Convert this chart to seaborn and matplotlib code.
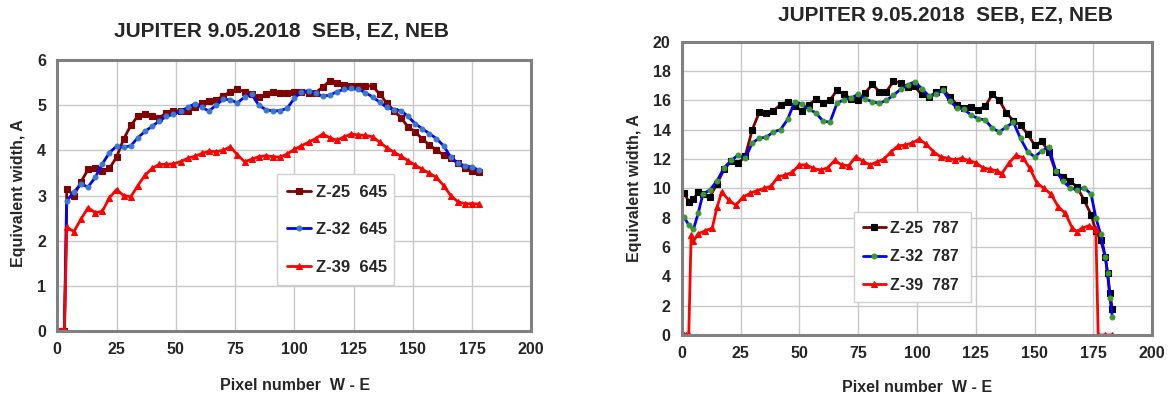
import matplotlib
matplotlib.use("Agg")
import matplotlib.pyplot as plt
import seaborn as sns

# Left chart (645) - pixel positions and equivalent widths
x_645 = [1, 2, 3, 4, 7, 10, 13, 16, 19, 22, 25, 28, 31, 34, 37, 40, 43, 46, 49, 52,
         55, 58, 61, 64, 67, 70, 73, 76, 79, 82, 85, 88, 91, 94, 97, 100, 103, 106,
         109, 112, 115, 118, 121, 124, 127, 130, 133, 136, 139, 142, 145, 148, 151,
         154, 157, 160, 163, 166, 169, 172, 175, 178]
z25_645 = [0, 0, 0, 3.15, 3.0, 3.3, 3.58, 3.6, 3.55, 3.6, 3.85, 4.25, 4.55, 4.76, 4.8,
           4.75, 4.72, 4.83, 4.87, 4.88, 4.88, 4.95, 5.05, 5.1, 5.12, 5.2, 5.3, 5.35,
           5.3, 5.24, 5.18, 5.24, 5.3, 5.28, 5.26, 5.3, 5.3, 5.27, 5.28, 5.4, 5.54,
           5.5, 5.45, 5.42, 5.42, 5.43, 5.42, 5.25, 5.05, 4.88, 4.72, 4.52, 4.41,
           4.25, 4.12, 4.0, 3.9, 3.82, 3.72, 3.6, 3.55, 3.53]
z32_645 = [0, 0, 0, 2.88, 3.08, 3.25, 3.19, 3.4, 3.7, 3.95, 4.09, 4.07, 4.1, 4.28, 4.42,
           4.53, 4.65, 4.75, 4.8, 4.86, 4.95, 5.03, 4.95, 4.87, 5.0, 5.13, 5.12, 5.05,
           5.18, 5.24, 5.0, 4.9, 4.87, 4.88, 4.93, 5.15, 5.3, 5.32, 5.26, 5.2, 5.22,
           5.3, 5.35, 5.37, 5.35, 5.28, 5.18, 5.07, 4.95, 4.9, 4.88, 4.75, 4.59, 4.48,
           4.37, 4.26, 4.1, 3.85, 3.71, 3.66, 3.63, 3.56]
z39_645 = [0, 0, 0, 2.3, 2.2, 2.48, 2.73, 2.62, 2.65, 2.95, 3.13, 3.0, 2.97, 3.22, 3.45,
           3.6, 3.69, 3.69, 3.7, 3.75, 3.82, 3.87, 3.93, 3.98, 3.97, 4.0, 4.08, 3.9,
           3.75, 3.8, 3.86, 3.88, 3.86, 3.85, 3.92, 4.02, 4.1, 4.18, 4.26, 4.36, 4.28,
           4.22, 4.3, 4.36, 4.34, 4.33, 4.3, 4.18, 4.06, 3.96, 3.87, 3.77, 3.67, 3.58,
           3.49, 3.4, 3.22, 3.0, 2.86, 2.82, 2.82, 2.81]

# Right chart (787)
x_787 = [1, 3, 5, 7, 9, 12, 15, 18, 21, 24, 27, 30, 33, 36, 39, 42, 45, 48, 51, 54,
         57, 60, 63, 66, 69, 72, 75, 78, 81, 84, 87, 90, 93, 96, 99, 102, 105, 108,
         111, 114, 117, 120, 123, 126, 129, 132, 135, 138, 141, 144, 147, 150, 153,
         156, 159, 162, 165, 168, 171, 174, 176, 178, 180, 181, 182, 183]
z25_787 = [9.7, 9.1, 9.25, 9.75, 9.6, 9.43, 10.3, 11.3, 11.85, 11.7, 12.2, 14.0, 15.2,
           15.15, 15.3, 15.7, 15.9, 15.6, 15.3, 15.7, 16.07, 15.85, 16.0, 16.7, 16.4,
           16.1, 16.0, 16.5, 17.1, 16.6, 16.6, 17.3, 17.2, 16.9, 16.95, 16.4, 16.2,
           16.55, 16.75, 16.25, 15.7, 15.45, 15.55, 15.35, 15.6, 16.4, 16.0, 15.15,
           14.6, 14.3, 13.7, 12.95, 13.2, 12.5, 11.1, 10.8, 10.5, 10.1, 9.2, 8.2, 7.1,
           6.5, 5.35, 4.2, 2.84, 1.8]
z32_787 = [8.05, 7.5, 7.2, 8.3, 9.6, 9.9, 10.5, 11.4, 11.9, 12.27, 12.05, 13.1, 13.42,
           13.5, 13.85, 14.0, 14.7, 15.9, 15.75, 15.4, 15.15, 14.6, 14.5, 15.8, 16.05,
           16.15, 16.43, 16.1, 15.9, 15.8, 16.0, 16.35, 16.75, 17.05, 17.27, 16.8, 16.3,
           16.4, 16.7, 15.95, 15.5, 15.38, 15.0, 14.75, 14.66, 14.1, 13.85, 14.2, 14.5,
           13.4, 12.5, 12.15, 12.55, 12.8, 11.2, 10.5, 10.05, 9.9, 10.05, 9.6, 8.0, 6.9,
           5.35, 4.2, 2.5, 1.25]
x_787_z39 = [1, 2, 3, 4, 5, 7, 10, 13, 15, 17, 20, 23, 26, 29, 32, 35, 38, 41, 44, 47,
             50, 53, 56, 59, 62, 65, 68, 71, 74, 77, 80, 83, 86, 89, 92, 95, 98, 101,
             104, 107, 110, 113, 116, 119, 122, 125, 128, 131, 134, 136, 139, 142, 145,
             148, 151, 154, 157, 160, 163, 166, 168, 170, 173, 176, 177, 180, 183]
z39_787 = [0, 0, 0, 6.8, 6.4, 6.9, 7.1, 7.3, 8.7, 9.75, 9.2, 8.85, 9.4, 9.65, 9.85,
           10.0, 10.15, 10.8, 10.9, 11.1, 11.6, 11.6, 11.36, 11.25, 11.4, 11.9, 11.6,
           11.55, 12.15, 11.85, 11.6, 11.8, 12.0, 12.5, 12.9, 12.95, 13.1, 13.35, 13.0,
           12.5, 12.15, 12.05, 11.95, 12.05, 11.9, 11.75, 11.4, 11.3, 11.2, 11.0, 11.7,
           12.25, 12.1, 11.36, 10.35, 10.0, 9.6, 8.75, 8.3, 7.3, 7.05, 7.27, 7.45, 7.2,
           0, 0, 0]

TITLE = "JUPITER 9.05.2018  SEB, EZ, NEB"
XLABEL = "Pixel number  W - E"
YLABEL = "Equivalent width, A"

sns.set_style("white")
plt.rcParams["font.family"] = ["Liberation Sans", "DejaVu Sans"]
plt.rcParams["font.weight"] = "bold"

fig = plt.figure(figsize=(11.76, 3.96), dpi=100)
W, H = 1176, 396
ax1 = fig.add_axes([57.3 / W, (H - 331) / H, 474 / W, 271 / H])
ax2 = fig.add_axes([681.7 / W, (H - 335) / H, 470.6 / W, 293.3 / H])


def draw(ax, x, y, label, line, mk, mface, msize, medge=None):
    sns.lineplot(x=x, y=y, ax=ax, color=line, linewidth=2.0, marker=mk,
                 markersize=msize, markerfacecolor=mface,
                 markeredgecolor=medge or mface, markeredgewidth=0.8,
                 estimator=None, sort=False, label=label)


def style(ax, ymax, ystep, legend_box, spacing, fsize, bpad):
    ax.set_xlim(0, 200)
    ax.set_ylim(0, ymax)
    ax.set_xticks(range(0, 201, 25))
    ax.set_yticks(range(0, ymax + 1, ystep))
    ax.grid(True, color="#c8c8c8", linewidth=1.0)
    ax.set_axisbelow(True)
    for s in ax.spines.values():
        s.set_color("#808080")
        s.set_linewidth(2.2)
    ax.tick_params(axis="both", labelsize=11.5, length=4, color="#808080",
                   width=1, pad=4)
    for t in ax.get_xticklabels() + ax.get_yticklabels():
        t.set_fontweight("bold")
    ax.set_xlabel("")
    ax.set_ylabel("")
    leg = ax.legend(loc="center", bbox_to_anchor=legend_box, mode="expand",
                    frameon=True, fancybox=False, framealpha=1,
                    edgecolor="#d0d0d0", borderaxespad=0, handlelength=1.45,
                    handletextpad=0.25, labelspacing=spacing,
                    prop={"size": fsize, "weight": "bold"}, borderpad=bpad)
    leg.get_frame().set_linewidth(1.0)


# left panel
draw(ax1, x_645, z25_645, "Z-25  645", "#800000", "s", "#800000", 4.5)
draw(ax1, x_645, z32_645, "Z-32  645", "#0000ff", "o", "#3a7ac8", 3.5)
draw(ax1, x_645, z39_645, "Z-39  645", "#ff0000", "^", "#ff0000", 5.0)
style(ax1, 6, 1, (0.4635, 0.159, 0.247, 0.431), 1.35, 12, 0.62)

# right panel
draw(ax2, x_787, z25_787, "Z-25  787", "#800000", "s", "#000000", 4.5)
draw(ax2, x_787, z32_787, "Z-32  787", "#0000ff", "o", "#3c9a2a", 3.5)
draw(ax2, x_787_z39, z39_787, "Z-39  787", "#ff0000", "^", "#ff0000", 4.5)
style(ax2, 20, 2, (0.366, 0.109, 0.248, 0.315), 0.85, 11.5, 0.55)

fig.text(281 / W, 1 - 32 / H, TITLE, ha="center", va="center", fontsize=15,
         fontweight="bold")
fig.text(945 / W, 1 - 15 / H, TITLE, ha="center", va="center", fontsize=15,
         fontweight="bold")
fig.text(295 / W, 1 - 385 / H, XLABEL, ha="center", va="center", fontsize=11.5,
         fontweight="bold")
fig.text(917 / W, 1 - 388 / H, XLABEL, ha="center", va="center", fontsize=11.5,
         fontweight="bold")
fig.text(19 / W, 1 - 193 / H, YLABEL, ha="center", va="center", fontsize=11.5,
         fontweight="bold", rotation=90)
fig.text(634 / W, 1 - 188 / H, YLABEL, ha="center", va="center", fontsize=11.5,
         fontweight="bold", rotation=90)

fig.savefig("out.png", dpi=100, facecolor="white")
